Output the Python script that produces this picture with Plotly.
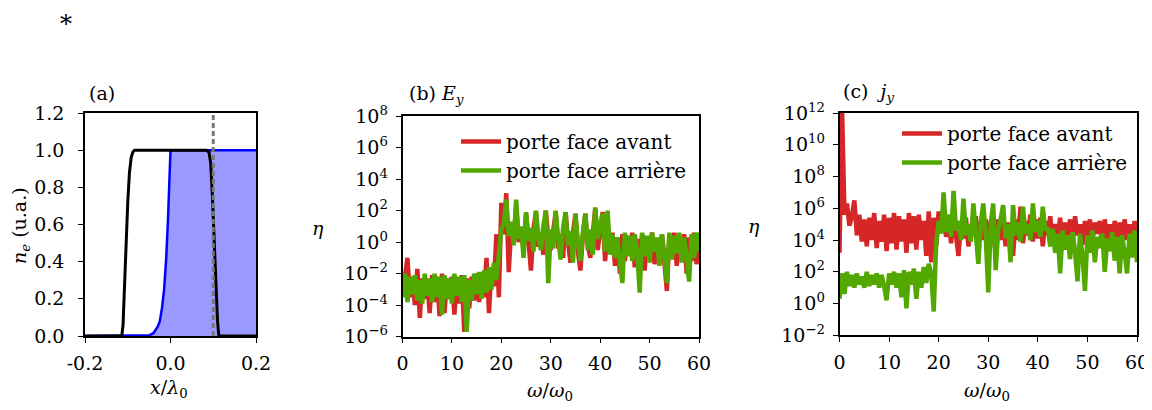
import numpy as np
import plotly.graph_objects as go

# ---------------- data ----------------
# panel (a): density profiles
x_black = [-0.2, -0.114, -0.111, -0.108, -0.104, -0.100, -0.096, -0.092, -0.088, -0.084, -0.080, -0.074,
           0.084, 0.090, 0.094, 0.098, 0.102, 0.106, 0.110, 0.113, 0.2]
n_black = [0.0, 0.0, 0.06, 0.25, 0.50, 0.72, 0.88, 0.96, 0.99, 1.0, 1.0, 1.0,
           1.0, 0.99, 0.93, 0.75, 0.50, 0.26, 0.08, 0.0, 0.0]
x_blue = [-0.2, -0.06, -0.05, -0.04, -0.035, -0.03, -0.025, -0.02, -0.015, -0.01, -0.006, -0.003, 0.0, 0.2]
n_blue = [0.0, 0.0, 0.004, 0.015, 0.03, 0.05, 0.08, 0.15, 0.25, 0.42, 0.62, 0.82, 1.0, 1.0]
x_gate = [0.1, 0.1]
n_gate = [0.0, 1.2]

# spectra sampling grid omega/omega0
omega = np.linspace(0, 60, 121)

# panel (b) E_y : log10(eta)
Ey_avant = [-3.0, -2.2, -1.0, -3.5, -2.2, -4.0, -1.7, -4.8, -2.3, -3.6, -2.4, -4.5, -2.1, -3.8, -2.2, -4.7,
            -2.0, -4.5, -2.3, -3.6, -2.2, -4.6, -2.4, -3.9, -2.1, -5.7, -2.3, -4.2, -2.2, -3.7, -2.0, -3.8,
            -2.4, -3.5, -1.0, -4.5, -1.6, -2.8, 0.5, -3.5, 2.5,
            0.5, 3.1, -1.9, 1.0, 0.2, 2.3, 0.0, 0.8, -0.5, 1.8, 0.3, -1.8, 0.8, 1.9, -0.3, 0.6, -0.8, 2.0,
            0.2, -0.5, 0.7, 1.9, -0.4, 0.5, -1.0, 1.9, 0.0, -1.3, 0.6, 1.8, -0.6, -1.8, 0.4, 1.8, -0.2,
            -1.0, 0.5, 2.1, -0.5, 0.8, 1.9, -1.2, 1.0,
            -0.3, 0.6, -1.5, 0.3, -2.0, 0.5, -1.2, 0.4, -0.8, 0.6, -1.6, 0.2, -1.0, 0.5, -1.8, 0.3, -0.6,
            0.6, -1.4, 0.2, -1.0, 0.5, -1.3, -3.1, 0.4, -0.8, 0.6, -1.5, 0.2, -1.0, 0.5, -2.0, 0.3, -1.2,
            0.6, -1.4, 0.2]
Ey_arriere = [-3.5, -2.0, -3.8, -2.2, -3.3, -2.1, -3.7, -2.4, -3.9, -2.0, -3.4, -2.3, -3.8, -2.0, -3.5, -2.2,
              -4.6, -2.1, -3.6, -2.3, -3.9, -2.0, -3.4, -2.2, -3.8, -2.1, -5.7, -2.4, -3.7, -2.0, -3.3, -1.9,
              -3.6, -1.8, -3.2, -1.6, -3.0, -1.3, -2.4, -0.9, 0.8,
              1.2, 2.7, 0.4, 1.3, -0.2, 2.7, 0.2, 1.0, -1.0, 1.9, 0.1, 0.9, -0.6, 2.0, 0.3, -0.5, 1.0, 2.0,
              -2.6, 0.8, -0.4, 2.0, 0.2, -1.1, 0.9, 1.9, -0.2, 0.7, -1.3, 1.8, 0.0, -1.2, 0.6, 1.8, -0.5,
              0.8, -0.8, 2.2, 0.2, 1.0, 1.8, -0.6, 2.0,
              -0.8, 0.5, -1.0, 0.3, -1.3, -2.6, 0.6, -0.9, 0.4, -1.2, 0.5, -0.7, -3.2, 0.6, -0.9, 0.4, -1.3,
              0.6, -0.6, 0.3, -1.5, 0.5, -0.8, -2.6, 0.6, -1.1, 0.4, -0.7, 0.6, -1.3, 0.3, -0.9, -2.5, 0.5,
              -1.0, 0.6, -0.6]

# panel (c) j_y : log10(eta)
jy_avant = [3.2, 12.5, 5.6, 6.3, 4.9, 5.5, 6.5, 4.3, 5.6, 3.9, 5.3, 3.6, 5.4, 4.0, 5.7, 3.5, 5.2, 3.9, 5.6,
            3.3, 5.4, 3.8, 5.7, 3.4, 5.5, 3.9, 5.3, 3.2, 5.7, 3.8, 5.5, 3.4, 5.6, 4.0, 5.2, 3.0, 5.8, 2.6,
            5.4, 3.6, 5.8,
            4.6, 5.5, 4.2, 5.3, 3.8, 5.5, 4.4, 3.0, 5.2, 4.1, 5.4, 3.6, 5.0, 4.3, 5.5, 3.5, 5.1, 4.0, 5.3,
            3.7, 5.2, 4.4, 3.3, 5.3, 4.0, 5.5, 3.6, 5.1, 4.2, 3.0, 5.3, 4.0, 6.1, 3.8, 5.2, 4.3, 5.6, 3.9,
            5.3, 4.1, 5.4, 3.6, 5.2,
            4.3, 5.5, 3.9, 5.0, 4.2, 5.4, 3.6, 5.1, 4.0, 5.3, 3.8, 5.5, 4.3, 5.0, 3.7, 5.2, 4.1, 5.3, 3.9,
            5.1, 4.4, 5.2, 3.6, 5.3, 4.0, 5.0, 3.5, 5.2, 4.2, 5.1, 3.8, 5.3, 4.0, 5.0, 3.4, 5.2, 4.0]
jy_arriere = [0.3, 1.9, 0.6, 2.0, 1.1, 1.8, 1.0, 1.9, 1.2, 1.7, 1.0, 2.0, 1.1, 1.8, 1.2, 1.9, 1.0, 1.8, 1.1,
              0.2, 1.9, 1.2, 2.0, 1.0, 1.9, 0.4, 2.1, -0.3, 2.0, 1.2, 2.2, 0.3, 2.0, 1.0, 2.3, 1.3, 2.5, 1.9,
              -0.5, 3.8, 5.2,
              4.4, 7.0, 4.5, 5.6, 4.2, 7.1, 4.6, 5.2, 4.0, 6.6, 4.3, 5.0, 3.9, 6.3, 4.4, 2.5, 5.1, 6.3, 4.2,
              0.7, 5.0, 6.3, 2.1, 4.6, 5.3, 6.2, 4.1, 5.0, 2.6, 6.2, 4.3, 5.1, 3.9, 6.1, 4.4, 5.0, 4.0, 6.3,
              4.5, 5.2, 4.2, 6.1, 4.6,
              4.8, 3.6, 4.7, 3.2, 4.4, 1.9, 4.6, 3.4, 4.3, 2.8, 4.5, 3.3, 1.4, 4.4, 3.0, 0.8, 4.3, 3.2, 4.6,
              2.6, 4.2, 3.5, 4.4, 2.0, 4.1, 3.3, 4.5, 2.7, 4.2, 1.9, 4.3, 3.2, 1.9, 4.4, 2.9, 4.6, 2.6]

# tick labels
a_xticks = [-0.2, 0.0, 0.2]
a_xticktext = ["-0.2", "0.0", "0.2"]
a_yticks = [0.0, 0.2, 0.4, 0.6, 0.8, 1.0, 1.2]
b_yexp = [-6, -4, -2, 0, 2, 4, 6, 8]
c_yexp = [-2, 0, 2, 4, 6, 8, 10, 12]
w_ticks = [0, 10, 20, 30, 40, 50, 60]

series_names = ["porte face avant", "porte face arrière"]

# ---------------- style ----------------
OFF = 8  # page body margin
W, H = 1152 - OFF, 410 - OFF
FONT = "DejaVu Serif"
FS = 19
LFS = 20
RED = "#d62728"
GREEN = "#52a800"
LW = 4.5

def px(x):
    return (x - OFF) / W

def py(y):
    return 1 - (y - OFF) / H

fig = go.Figure()

# panel (a)
fig.add_trace(go.Scatter(x=x_blue, y=n_blue, mode="lines", line=dict(color="#0000ff", width=2.5),
                         fill="tozeroy", fillcolor="rgba(0,0,255,0.4)", showlegend=False,
                         xaxis="x", yaxis="y"))
fig.add_trace(go.Scatter(x=x_black, y=n_black, mode="lines", line=dict(color="black", width=3),
                         showlegend=False, xaxis="x", yaxis="y"))
fig.add_trace(go.Scatter(x=x_gate, y=n_gate, mode="lines",
                         line=dict(color="#777777", width=3, dash="5px,3px"),
                         showlegend=False, xaxis="x", yaxis="y"))

# panel (b)
fig.add_trace(go.Scatter(x=omega, y=np.power(10.0, Ey_avant), mode="lines", name=series_names[0],
                         line=dict(color=RED, width=LW), legend="legend", xaxis="x2", yaxis="y2"))
fig.add_trace(go.Scatter(x=omega, y=np.power(10.0, Ey_arriere), mode="lines", name=series_names[1],
                         line=dict(color=GREEN, width=LW), legend="legend", xaxis="x2", yaxis="y2"))
# panel (c)
fig.add_trace(go.Scatter(x=omega, y=np.power(10.0, jy_avant), mode="lines", name=series_names[0],
                         line=dict(color=RED, width=LW), legend="legend2", xaxis="x3", yaxis="y3"))
fig.add_trace(go.Scatter(x=omega, y=np.power(10.0, jy_arriere), mode="lines", name=series_names[1],
                         line=dict(color=GREEN, width=LW), legend="legend2", xaxis="x3", yaxis="y3"))

axis_common = dict(showline=True, linecolor="black", linewidth=1.5, mirror=True,
                   ticks="outside", ticklen=5, tickwidth=1.2, tickcolor="black",
                   showgrid=False, zeroline=False, automargin=False,
                   tickfont=dict(family=FONT, size=FS, color="black"))

def sup(e):
    return "10<sup>%s</sup>" % (("−%d" % -e) if e < 0 else str(e))

fig.update_layout(
    width=W, height=H, margin=dict(l=0, r=0, t=0, b=0, autoexpand=False),
    paper_bgcolor="white", plot_bgcolor="white",
    font=dict(family=FONT, size=FS, color="black"),
    xaxis=dict(domain=[px(85), px(256)], range=[-0.2, 0.2], tickvals=a_xticks, ticktext=a_xticktext,
               anchor="y", ticklabelstandoff=4, **axis_common),
    yaxis=dict(domain=[py(336), py(113)], range=[0, 1.2], tickvals=a_yticks, tickformat=".1f",
               anchor="x", ticklabelstandoff=10, **axis_common),
    xaxis2=dict(domain=[px(402.5), px(699)], range=[0, 60], tickvals=w_ticks, anchor="y2",
                ticklabelstandoff=4, **axis_common),
    yaxis2=dict(domain=[py(336.7), py(116)], type="log", range=[-6, 8],
                tickvals=[10.0 ** e for e in b_yexp], ticktext=[sup(e) for e in b_yexp],
                anchor="x2", ticklabelstandoff=4, **axis_common),
    xaxis3=dict(domain=[px(839.5), px(1137)], range=[0, 60], tickvals=w_ticks, anchor="y3",
                ticklabelstandoff=4, **axis_common),
    yaxis3=dict(domain=[py(335.3), py(113)], type="log", range=[-2, 12],
                tickvals=[10.0 ** e for e in c_yexp], ticktext=[sup(e) for e in c_yexp],
                anchor="x3", ticklabelstandoff=4, **axis_common),
    legend=dict(x=px(456), y=py(122), xanchor="left", yanchor="top", bgcolor="rgba(0,0,0,0)",
                font=dict(family=FONT, size=LFS), tracegroupgap=0, itemwidth=40),
    legend2=dict(x=px(897), y=py(114), xanchor="left", yanchor="top", bgcolor="rgba(0,0,0,0)",
                 font=dict(family=FONT, size=LFS), tracegroupgap=0, itemwidth=40),
)

ann = []
def add_text(text, x, y, xanchor="center", yanchor="middle", angle=0, size=FS):
    ann.append(dict(text=text, x=px(x), y=py(y), xref="paper", yref="paper", showarrow=False,
                    xanchor=xanchor, yanchor=yanchor, textangle=angle,
                    font=dict(family=FONT, size=size, color="black")))

add_text("*", 66, 8, yanchor="top", size=24)
add_text("(a)", 87, 93, xanchor="left")
add_text("(b) <i>E</i><sub><i>y</i></sub>", 407, 95, xanchor="left")
add_text("(c)  <i>j</i><sub><i>y</i></sub>", 841, 93, xanchor="left")
add_text("<i>n</i><sub><i>e</i></sub> (u.a.)", 20, 226, angle=-90)
add_text("<i>η</i>", 318, 228)
add_text("<i>η</i>", 754, 226)
add_text("<i>x</i>/<i>λ</i><sub>0</sub>", 169, 388)
add_text("<i>ω</i>/<i>ω</i><sub>0</sub>", 550, 391)
add_text("<i>ω</i>/<i>ω</i><sub>0</sub>", 987, 391)
fig.update_layout(annotations=ann)

fig.write_html("out.html")
